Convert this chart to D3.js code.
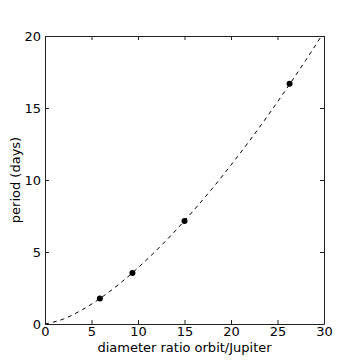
<!DOCTYPE html>
<html>
<head>
<meta charset="utf-8">
<script src="https://cdn.jsdelivr.net/npm/d3@7"></script>
<style>
  body { margin: 0; background: #fff; }
  svg text { font-family: "DejaVu Sans", sans-serif; fill: #000; }
</style>
</head>
<body>
<div id="chart"></div>
<script>
// Galilean moons: orbit diameter / Jupiter diameter vs period
const moonRatio = [5.9, 9.4, 15.0, 26.3];
const moonPeriod = [1.77, 3.55, 7.15, 16.69];

// dashed fit curve
const fitRatio = [0, 2, 4, 6, 8, 10, 12, 14, 16, 18, 20, 22, 24, 26, 28, 30];
const fitPeriod = [0, 0.35, 0.99, 1.81, 2.79, 3.90, 5.13, 6.46, 7.90, 9.42, 11.04, 12.73, 14.51, 16.36, 18.28, 20.28];

const xTicks = [0, 5, 10, 15, 20, 25, 30];
const yTicks = [0, 5, 10, 15, 20];

const width = 360, height = 360;
const margin = { top: 36, right: 36, bottom: 36, left: 45 };

const svg = d3.select('#chart')
  .append('svg')
  .attr('width', width)
  .attr('height', height);

const x = d3.scaleLinear().domain([0, 30]).range([margin.left, width - margin.right]);
const y = d3.scaleLinear().domain([0, 20]).range([height - margin.bottom, margin.top]);

svg.append('clipPath').attr('id', 'clip')
  .append('rect')
  .attr('x', margin.left).attr('y', margin.top)
  .attr('width', x(30) - x(0)).attr('height', y(0) - y(20));

const fit = fitRatio.map((d, i) => [d, fitPeriod[i]]);
const line = d3.line().curve(d3.curveMonotoneX).x(d => x(d[0])).y(d => y(d[1]));

svg.append('path')
  .datum(fit)
  .attr('clip-path', 'url(#clip)')
  .attr('d', line)
  .attr('fill', 'none')
  .attr('stroke', '#000')
  .attr('stroke-width', 1)
  .attr('stroke-dasharray', '4,4');

svg.selectAll('.moon')
  .data(moonRatio)
  .enter()
  .append('circle')
  .attr('class', 'moon')
  .attr('cx', d => x(d))
  .attr('cy', (d, i) => y(moonPeriod[i]))
  .attr('r', 3)
  .attr('fill', '#000');

// axes, ticks pointing inward like the classic matplotlib look
const tickLen = 4;
const axBottom = svg.append('g')
  .attr('transform', 'translate(0,' + y(0) + ')')
  .call(d3.axisBottom(x).tickValues(xTicks).tickSizeInner(-tickLen).tickSizeOuter(0).tickPadding(3));
const axTop = svg.append('g')
  .attr('transform', 'translate(0,' + y(20) + ')')
  .call(d3.axisTop(x).tickValues(xTicks).tickSizeInner(-tickLen).tickSizeOuter(0).tickFormat(''));
const axLeft = svg.append('g')
  .attr('transform', 'translate(' + x(0) + ',0)')
  .call(d3.axisLeft(y).tickValues(yTicks).tickSizeInner(-tickLen).tickSizeOuter(0).tickPadding(4));
const axRight = svg.append('g')
  .attr('transform', 'translate(' + x(30) + ',0)')
  .call(d3.axisRight(y).tickValues(yTicks).tickSizeInner(-tickLen).tickSizeOuter(0).tickFormat(''));

[axBottom, axTop, axLeft, axRight].forEach(g => {
  g.selectAll('path').attr('stroke', '#222');
  g.selectAll('line').attr('stroke', '#222');
  g.selectAll('text').style('font-size', '13px');
});

svg.append('text')
  .attr('x', (x(0) + x(30)) / 2)
  .attr('y', 352)
  .attr('text-anchor', 'middle')
  .style('font-size', '13px')
  .text('diameter ratio orbit/Jupiter');

svg.append('text')
  .attr('transform', 'translate(20,' + (y(0) + y(20)) / 2 + ') rotate(-90)')
  .attr('text-anchor', 'middle')
  .style('font-size', '13px')
  .text('period (days)');
</script>
</body>
</html>
